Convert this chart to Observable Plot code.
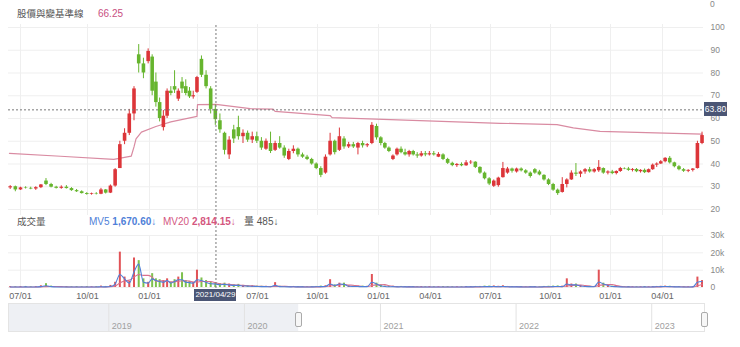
<!DOCTYPE html>
<html><head><meta charset="utf-8">
<script src="https://cdn.jsdelivr.net/npm/d3@7"></script>
<script src="https://cdn.jsdelivr.net/npm/@observablehq/plot@0.6"></script>
<style>
body{margin:0;background:#fff;}
#wrap{position:relative;width:740px;height:347px;overflow:hidden;background:#fff;font-family:"Liberation Sans","Noto Sans CJK TC",sans-serif;}
#wrap svg{position:absolute;left:0;}
.lbl{position:absolute;white-space:nowrap;font-size:10px;line-height:12px;}
</style></head><body>
<div id="wrap"></div>
<script>
// ---------- data ----------
const weekStart = "2020-06-17"; // one candle per week
const open = [29.5,30.0,28.6,29.5,29.3,29.0,29.6,32.5,31.0,29.8,
29.3,29.8,29.2,28.3,27.8,27.0,26.6,26.9,26.7,28.6,
27.2,30.3,38.0,50.0,53.5,62.0,88.0,84.0,85.0,87.0,
76.0,67.0,56.0,61.0,72.0,74.0,68.5,76.0,74.0,72.0,
69.5,71.5,86.0,79.0,73.0,64.0,59.0,53.5,44.0,55.0,
56.0,52.0,53.5,50.5,52.0,50.0,46.5,49.0,46.0,49.0,
47.0,42.0,45.5,46.5,44.0,43.0,42.0,40.0,38.0,36.0,
44.0,50.0,46.0,51.0,47.5,48.5,47.0,49.0,48.0,49.0,
56.5,51.5,49.0,47.0,42.0,44.0,46.5,45.0,44.0,45.5,
44.0,43.5,44.5,44.0,44.5,43.0,44.0,42.0,40.3,39.3,
39.8,39.2,40.5,40.8,38.5,36.0,33.5,30.2,30.5,34.0,
36.0,37.8,36.5,37.8,37.0,36.0,37.5,36.5,35.0,33.0,
31.0,28.5,27.5,31.0,33.0,36.0,35.5,36.5,37.5,36.5,
37.0,38.0,36.0,36.5,35.8,36.7,38.0,37.8,37.2,37.6,
36.6,37.2,36.2,37.5,39.5,40.0,41.0,42.5,40.5,38.8,
37.5,36.8,37.2,38.0,49.0];
const high = [30.5,30.3,29.8,30.0,29.8,30.0,31.0,33.6,31.5,30.2,
30.4,30.5,29.6,28.8,28.2,27.4,27.2,27.4,29.3,28.8,
30.8,38.0,50.0,55.5,64.0,74.0,92.5,86.5,90.6,88.0,
80.0,69.0,63.5,73.0,74.0,81.0,73.0,78.0,77.0,73.6,
72.0,78.5,87.5,81.0,74.0,66.0,62.0,54.0,52.0,57.0,
61.0,55.0,54.5,54.0,54.0,51.6,51.0,54.0,50.0,52.0,
48.0,46.5,48.0,47.0,44.8,43.8,42.5,40.5,38.8,44.0,
53.5,50.5,55.8,52.0,49.5,49.5,49.5,50.0,49.0,58.2,
57.5,52.0,49.5,47.5,44.0,47.0,47.5,46.5,46.0,46.0,
45.0,45.5,45.5,45.5,45.5,45.0,44.5,42.5,40.8,40.2,
40.5,41.5,41.5,41.0,38.8,36.5,34.0,33.0,34.2,40.7,
38.5,38.2,38.2,38.3,37.5,36.5,38.0,37.2,35.3,33.5,
31.5,29.0,34.0,33.5,37.0,40.2,37.0,38.0,38.5,38.0,
41.5,38.3,37.0,37.2,37.0,38.5,38.3,38.5,38.0,38.0,
37.5,37.8,37.8,40.0,40.5,41.5,42.8,43.3,40.8,39.3,
38.0,37.5,38.0,50.0,54.0];
const low = [28.8,27.8,28.4,29.0,28.7,28.4,29.2,30.5,29.5,29.0,
28.9,29.0,28.0,27.5,26.8,26.3,26.3,26.4,26.5,26.8,
27.0,29.8,38.0,48.5,52.5,59.0,80.0,77.5,84.0,70.0,
65.0,58.5,54.5,60.0,70.0,71.0,67.5,71.0,70.0,68.8,
68.5,71.0,78.0,73.0,62.0,57.0,53.5,44.0,42.0,49.0,
50.5,49.0,49.5,49.0,49.0,46.0,46.0,44.6,45.5,46.5,
42.5,41.5,44.5,43.0,42.5,41.5,39.5,37.5,34.0,35.5,
43.5,44.0,45.5,46.5,46.8,46.8,44.0,47.0,47.2,48.5,
50.5,48.0,46.5,45.0,41.5,43.5,44.5,43.5,43.0,43.5,
42.5,43.0,43.2,43.5,43.5,42.8,41.5,39.8,38.8,38.5,
38.8,39.0,39.8,38.0,35.5,33.0,30.5,29.7,29.8,33.8,
35.5,36.0,36.0,36.5,35.5,33.8,35.5,34.8,32.5,30.5,
28.0,26.2,27.2,29.5,32.8,34.5,34.0,35.5,36.0,36.0,
36.3,35.5,35.2,35.3,35.2,36.3,37.5,36.8,36.5,36.2,
36.0,35.8,36.0,37.2,38.5,39.8,40.5,40.0,38.3,37.0,
36.3,36.2,36.5,37.8,48.5];
const close = [30.0,28.6,29.5,29.3,29.0,29.6,30.8,31.0,29.8,29.3,
29.8,29.2,28.3,27.8,27.0,26.6,26.9,26.7,28.6,27.2,
30.3,37.5,48.5,53.5,62.0,73.0,84.0,80.0,89.5,72.0,
67.0,60.0,61.0,72.0,71.0,72.5,72.0,73.0,71.0,69.5,
70.0,78.0,79.0,74.0,64.0,59.5,55.0,46.0,50.5,51.0,
52.0,53.5,50.5,52.0,50.0,47.0,50.0,45.5,49.0,47.0,
43.5,45.5,46.5,44.0,43.0,42.0,40.0,38.0,35.0,43.0,
50.0,45.0,52.0,47.5,48.5,47.5,49.0,48.0,48.5,57.0,
51.5,49.0,47.0,45.5,43.5,46.5,45.0,44.0,45.5,44.0,
43.5,44.5,44.0,44.5,44.0,44.2,42.0,40.3,39.3,39.8,
39.2,40.5,40.8,38.5,36.0,33.5,31.2,32.5,33.8,38.0,
37.8,36.8,37.8,37.0,36.0,34.5,36.0,35.2,33.0,31.0,
28.5,27.0,31.0,33.0,36.0,35.5,36.5,37.5,36.5,37.5,
38.5,36.0,36.5,35.8,36.7,38.0,37.8,37.2,37.6,36.6,
37.2,36.2,37.5,39.5,40.0,41.0,42.5,40.5,38.8,37.5,
36.8,37.2,37.8,49.0,52.5];
// volume, thousands of lots: weekly peak day (bars) and weekly average (MV5)
const volPeak = [0.5,0.4,0.5,0.6,0.4,0.5,1.0,2.2,0.8,0.5,
0.4,0.5,0.4,0.5,0.4,0.5,0.4,0.5,0.8,0.6,
1.2,3.0,20.4,6.0,3.5,17.0,15.5,5.0,3.0,8.0,
5.0,4.5,4.0,5.0,3.0,4.5,6.0,8.5,4.0,3.5,
3.0,10.0,5.5,4.0,3.0,2.5,2.2,2.5,2.0,1.5,
1.8,1.2,1.0,1.0,0.8,0.7,0.7,0.6,2.8,0.7,
0.6,0.5,0.6,0.5,0.5,0.4,0.5,0.6,0.8,1.0,
4.5,1.5,2.5,2.5,1.0,0.9,0.8,0.8,0.7,7.5,
2.5,1.5,0.8,0.6,0.7,0.5,0.6,0.5,0.5,0.5,
0.4,0.5,0.4,0.5,0.4,0.4,0.5,0.5,0.4,0.4,
0.4,0.5,0.5,0.6,0.6,0.8,0.8,0.9,0.7,1.0,
0.6,0.5,0.5,0.5,0.4,0.5,0.5,0.4,0.6,0.7,
0.8,0.9,0.8,5.0,2.0,2.0,1.2,0.8,0.7,0.6,
10.0,2.5,1.5,0.8,0.6,0.5,0.4,0.5,0.4,0.4,
0.4,0.5,0.4,0.5,0.6,0.7,0.8,0.7,0.5,0.5,
0.4,0.4,0.5,6.0,4.0];
const volAvg = [0.3,0.3,0.3,0.35,0.3,0.3,0.5,1.0,0.5,0.3,
0.3,0.3,0.3,0.3,0.3,0.3,0.3,0.3,0.4,0.35,
0.6,2.0,7.5,5.0,2.5,9.0,13.5,3.0,2.5,5.0,
4.0,3.5,3.0,4.0,2.5,3.5,4.5,4.5,3.0,2.8,
2.5,4.5,4.0,3.0,2.2,2.0,1.6,1.8,1.5,1.2,
1.2,0.9,0.8,0.7,0.6,0.5,0.5,0.45,1.2,0.5,
0.4,0.35,0.4,0.35,0.35,0.3,0.35,0.4,0.5,0.6,
2.0,1.2,2.0,1.8,0.7,0.6,0.55,0.5,0.5,3.0,
2.0,1.0,0.55,0.45,0.5,0.35,0.4,0.35,0.35,0.35,
0.3,0.3,0.3,0.3,0.3,0.3,0.3,0.3,0.3,0.3,
0.3,0.35,0.35,0.4,0.4,0.5,0.5,0.55,0.45,0.6,
0.4,0.35,0.35,0.35,0.3,0.35,0.35,0.3,0.4,0.45,
0.5,0.6,0.5,2.0,1.5,1.5,0.9,0.6,0.5,0.45,
3.2,2.0,1.2,0.6,0.45,0.35,0.3,0.35,0.3,0.3,
0.3,0.35,0.3,0.35,0.4,0.5,0.55,0.5,0.35,0.35,
0.3,0.3,0.35,3.0,3.5];
// 股價與變基準線 (pink reference line)
const baseDates = ["2020-06-16","2020-08-25","2020-11-09","2020-11-19","2020-12-05","2020-12-09","2020-12-12","2020-12-20","2021-01-13","2021-02-10","2021-03-31","2021-04-01","2021-04-29","2021-06-20","2021-07-25","2021-07-28","2021-10-20","2021-10-23","2022-01-09","2022-07-16","2022-10-11","2022-11-05","2022-12-16","2023-05-31"];
const baseValues = [44.7,43.4,42.0,42.6,43.5,47.5,51.0,54.0,56.5,58.5,60.9,66.1,66.25,64.3,64.1,63.1,61.3,60.4,59.6,57.9,57.3,55.9,54.3,53.1];
// axes
const tickDates = ["2020-07-01","2020-10-01","2021-01-01","2021-04-01","2021-07-01","2021-10-01","2022-01-01","2022-04-01","2022-07-01","2022-10-01","2023-01-01","2023-04-01"];
const tickLabels = ["07/01","10/01","01/01","04/01","07/01","10/01","01/01","04/01","07/01","10/01","01/01","04/01"];
const priceTicks = [20,30,40,50,60,70,80,90,100];
const volTicks = [0,10,20,30];
const volTickLabels = ["0","10k","20k","30k"];
const navYears = ["2019","2020","2021","2022","2023"];
const navRange = ["2018-04-06","2023-05-23"];
const navSelStart = "2020-05-26";
// crosshair readout
const crossDate = "2021-04-29";
const crossLabel = "2021/04/29";
const crossValue = 63.80;
const baseAtCross = "66.25";
const mv5Text = "1,670.60", mv20Text = "2,814.15", volText = "485";

// ---------- build ----------
const wrap = document.getElementById("wrap");
const FONT = '"Liberation Sans","Noto Sans CJK TC",sans-serif';
const RED = "#dc3539", GREEN = "#66b52e";
const dates = open.map((_, i) => d3.utcWeek.offset(new Date(weekStart), i));
const candles = dates.map((date, i) => ({date, open: open[i], high: high[i], low: low[i], close: close[i], vol: volPeak[i], avg: volAvg[i]}));
const colorOf = d => d.close >= d.open ? RED : GREEN;
const ticks = tickDates.map(d => new Date(d));
const labelOf = new Map(ticks.map((d, i) => [+d, tickLabels[i]]));
const base = baseDates.map((d, i) => ({date: new Date(d), v: baseValues[i]}));
const cross = new Date(crossDate);

// trading-day axis: quarters with fewer sessions (Lunar New Year) are narrower
const xScale = {type: "utc",
  domain: [new Date("2020-06-12"), ...ticks, new Date("2023-06-03")],
  range: [6, 20, 87, 149, 197, 257, 317, 378, 430, 490, 550, 610, 662, 703.5]};

const style = {background: "transparent", fontFamily: FONT, overflow: "visible"};

const price = Plot.plot({
  width: 740, height: 222, marginTop: 27, marginBottom: 13, marginLeft: 8, marginRight: 37,
  style, x: {...xScale, axis: null}, y: {domain: [20, 100], axis: null}, color: {type: "identity"},
  marks: [
    Plot.ruleY(priceTicks, {stroke: "#efefef"}),
    Plot.ruleX(ticks, {stroke: "#efefef", insetTop: -3, insetBottom: -6}),
    Plot.line(base, {x: "date", y: "v", stroke: "#d98ba2", strokeWidth: 1.2}),
    Plot.ruleX(candles, {x: "date", y1: "low", y2: "high", stroke: colorOf, strokeWidth: 1}),
    Plot.ruleX(candles, {x: "date", y1: "open", y2: "close", stroke: colorOf, strokeWidth: 3.6}),
    Plot.ruleY([crossValue], {stroke: "#777", strokeDasharray: "2,2"}),
    Plot.ruleX([cross], {stroke: "#777", strokeDasharray: "2,2", insetTop: -2, insetBottom: -13}),
    Plot.axisY({anchor: "right", ticks: priceTicks, tickSize: 0, tickPadding: 7, fontSize: 8.5, color: "#888"})
  ]
});
price.style.top = "0px";
wrap.appendChild(price);

// the tick label that sits under the crosshair date box is hidden, as in the reference
const xScaleV = d3.scaleUtc(xScale.domain, xScale.range);
const visibleTicks = ticks.filter(d => Math.abs(xScaleV(d) - xScaleV(cross)) > 24);

const vol = Plot.plot({
  width: 740, height: 80, marginTop: 13, marginBottom: 15, marginLeft: 8, marginRight: 37,
  style, x: {...xScale}, y: {domain: [0, 30], axis: null}, color: {type: "identity"},
  marks: [
    Plot.ruleY(volTicks, {stroke: "#efefef"}),
    Plot.ruleX(ticks, {stroke: "#efefef"}),
    Plot.ruleX(candles, {x: "date", y: "vol", stroke: colorOf, strokeWidth: 2, strokeOpacity: 0.85}),
    Plot.line(candles, Plot.windowY({k: 4, anchor: "end"}, {x: "date", y: "avg", stroke: "#d9708e", strokeWidth: 1.1, curve: "monotone-x"})),
    Plot.line(candles, {x: "date", y: "avg", stroke: "#4f7fd8", strokeWidth: 1.1, curve: "monotone-x"}),
    Plot.ruleX([cross], {stroke: "#777", strokeDasharray: "2,2", insetTop: -13, insetBottom: -3}),
    Plot.axisX({ticks: visibleTicks, tickFormat: d => labelOf.get(+d), tickSize: 0, tickPadding: 5, fontSize: 9, color: "#666"}),
    Plot.axisY({anchor: "right", ticks: volTicks, tickFormat: d => volTickLabels[volTicks.indexOf(d)], tickSize: 0, tickPadding: 7, fontSize: 8.5, color: "#888"})
  ]
});
vol.style.top = "222px";
wrap.appendChild(vol);

const navShade = [{x1: new Date(navRange[0]), x2: new Date(navSelStart)}];
const yearDates = navYears.map(y => new Date(y + "-01-01"));
const nav = Plot.plot({
  width: 740, height: 28, marginTop: 0, marginBottom: 0, marginLeft: 8, marginRight: 36,
  style, x: {type: "utc", domain: navRange.map(d => new Date(d)), axis: null}, y: {domain: [0, 1], axis: null},
  marks: [
    Plot.rect(navShade, {x1: "x1", x2: "x2", y1: 0, y2: 1, fill: "#eef0f4"}),
    Plot.ruleX(yearDates, {stroke: "#e2e2e2"}),
    Plot.text(yearDates, {x: d => d, text: (d, i) => navYears[i], frameAnchor: "bottom", textAnchor: "start", dx: 3, dy: -3, fill: "#a0a0a0", fontSize: 9}),
    Plot.frame({stroke: "#e4e4e4"})
  ]
});
nav.style.top = "303px";
wrap.appendChild(nav);

// ---------- text overlays ----------
function lbl(html, left, top, css) {
  const d = document.createElement("div");
  d.className = "lbl"; d.innerHTML = html;
  d.style.left = left + "px"; d.style.top = top + "px";
  if (css) Object.assign(d.style, css);
  wrap.appendChild(d); return d;
}
lbl("0", 710, 0, {color: "#888", fontSize: "8.5px", lineHeight: "9px"});
lbl("股價與變基準線", 17, 8, {color: "#555", fontSize: "9.5px"});
lbl(baseAtCross, 98, 8, {color: "#c8507f", fontSize: "10px"});
lbl("成交量", 17, 216, {color: "#555", fontSize: "9.5px"});
lbl('MV5 <b style="font-weight:600">' + mv5Text + '</b>↓', 89, 216, {color: "#4f7fd8"});
lbl('MV20 <b style="font-weight:600">' + mv20Text + '</b>↓', 163, 216, {color: "#d4577f"});
lbl("量 " + volText + "↓", 244, 216, {color: "#555"});

const cx = vol.scale("x").apply(cross);
lbl(crossLabel, cx - 21, 289, {width: "42px", height: "12px", lineHeight: "12px", textAlign: "center", background: "#4b5675", color: "#fff", fontSize: "8px"});
const cy = price.scale("y").apply(crossValue);
lbl(crossValue.toFixed(2), 704, cy - 7, {width: "23px", height: "14px", lineHeight: "14px", textAlign: "center", background: "#4b5675", color: "#fff", fontSize: "8.5px"});

const nx = nav.scale("x");
[navSelStart, navRange[1]].forEach(d => {
  const x = nx.apply(new Date(d));
  lbl("", x - 3, 312, {width: "5px", height: "13px", border: "1px solid #aaa", borderRadius: "2px", background: "#f7f7f7"});
});
</script></body></html>
